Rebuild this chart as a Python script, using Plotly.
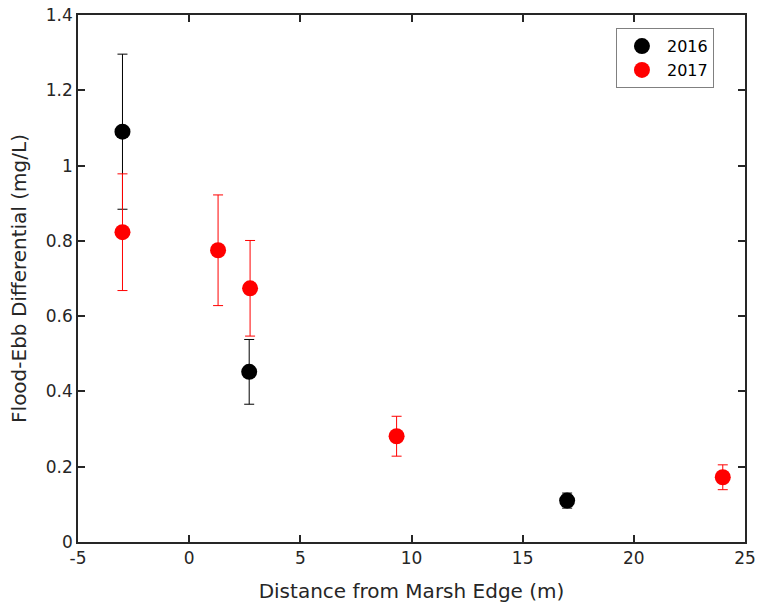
import plotly.graph_objects as go

# 2016 series
x2016 = [-3.0, 2.7, 17.0]
y2016 = [1.09, 0.452, 0.11]
e2016 = [0.206, 0.086, 0.02]

# 2017 series
x2017 = [-3.0, 1.3, 2.74, 9.33, 24.0]
y2017 = [0.823, 0.775, 0.674, 0.281, 0.172]
e2017 = [0.155, 0.147, 0.127, 0.053, 0.033]

xticks = [-5, 0, 5, 10, 15, 20, 25]
yticks = [0, 0.2, 0.4, 0.6, 0.8, 1, 1.2, 1.4]
ytick_labels = ["0", "0.2", "0.4", "0.6", "0.8", "1", "1.2", "1.4"]

FONT = "DejaVu Sans, Liberation Sans, Arial, sans-serif"
AX = "#262626"

fig = go.Figure()
fig.add_trace(go.Scatter(
    x=x2016, y=y2016, mode="markers", name="2016",
    marker=dict(color="black", size=16),
    error_y=dict(type="data", array=e2016, visible=True, color="black", thickness=1, width=5),
))
fig.add_trace(go.Scatter(
    x=x2017, y=y2017, mode="markers", name="2017",
    marker=dict(color="#ff0000", size=16),
    error_y=dict(type="data", array=e2017, visible=True, color="#ff0000", thickness=1, width=5),
))

axis_common = dict(
    showline=True, linecolor=AX, linewidth=1.5, mirror="ticks",
    ticks="inside", ticklen=7, tickwidth=1.5, tickcolor=AX,
    showgrid=False, zeroline=False, automargin=False,
    tickfont=dict(family=FONT, size=17, color=AX),
)

fig.update_layout(
    width=759, height=608,
    margin=dict(l=78, r=14, t=15, b=66),
    plot_bgcolor="white", paper_bgcolor="white",
    font=dict(family=FONT, color=AX),
    xaxis=dict(range=[-5, 25], tickvals=xticks, ticktext=[str(v) for v in xticks],
               title=dict(text="Distance from Marsh Edge (m)", font=dict(family=FONT, size=20, color=AX), standoff=17),
               **axis_common),
    yaxis=dict(range=[0, 1.4], tickvals=yticks, ticktext=ytick_labels,
               title=dict(text="Flood-Ebb Differential (mg/L)", font=dict(family=FONT, size=20, color=AX), standoff=14),
               **axis_common),
    legend=dict(x=0.88, y=0.918, xanchor="center", yanchor="middle",
                bordercolor="#808080", borderwidth=1, bgcolor="white",
                font=dict(family=FONT, size=16, color="black"),
                itemwidth=40, tracegroupgap=0),
    showlegend=True,
)

fig.write_html("out.html")
